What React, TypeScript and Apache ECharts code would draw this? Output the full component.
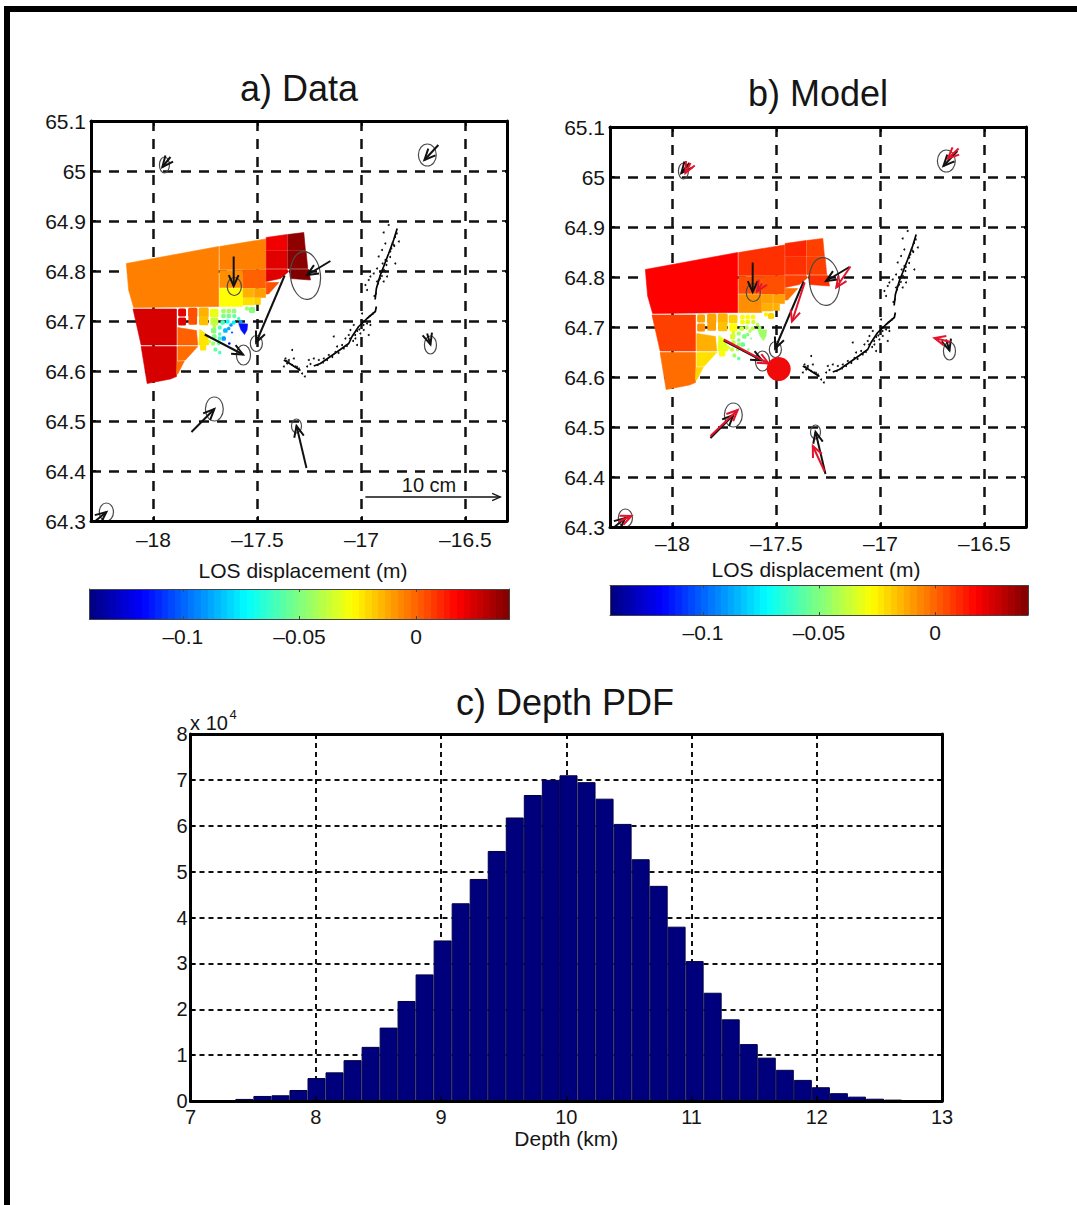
import React, { useEffect, useRef } from "react";
import * as echarts from "echarts";

const FONT = "'Liberation Sans', Arial, sans-serif";
const INK = "#151515";

// Histogram of source depth
const depthBinCentres = [7.142, 7.286, 7.43, 7.574, 7.718, 7.862, 8.006, 8.15, 8.294, 8.438, 8.582, 8.725, 8.869, 9.013, 9.157, 9.301, 9.445, 9.589, 9.733, 9.877, 10.018, 10.162, 10.306, 10.45, 10.594, 10.738, 10.881, 11.025, 11.169, 11.313, 11.457, 11.601, 11.745, 11.889, 12.033, 12.177, 12.321, 12.465, 12.609, 12.753, 12.897];
const depthCounts = [150, 200, 450, 1100, 1250, 2400, 5000, 6250, 8900, 11800, 16000, 21800, 27600, 35000, 43100, 48400, 54500, 61800, 66700, 70000, 71000, 69500, 65900, 60400, 52700, 46900, 38000, 30500, 23600, 17800, 12400, 9450, 6800, 4600, 3000, 1700, 950, 500, 300, 150, 100];

// InSAR cells: outlines in [lon, lat], LOS values for data and model
const cellOutlines = [
  [[-18.13, 64.815], [-17.686, 64.849], [-17.686, 64.729], [-18.095, 64.727], [-18.119, 64.762]],
  [[-17.681, 64.849], [-17.461, 64.864], [-17.461, 64.803], [-17.681, 64.803]],
  [[-17.681, 64.801], [-17.57, 64.801], [-17.57, 64.767], [-17.681, 64.767]],
  [[-17.569, 64.802], [-17.461, 64.802], [-17.461, 64.766], [-17.569, 64.766]],
  [[-17.681, 64.765], [-17.571, 64.765], [-17.571, 64.729], [-17.681, 64.729]],
  [[-17.569, 64.765], [-17.518, 64.765], [-17.518, 64.747], [-17.569, 64.747]],
  [[-17.515, 64.765], [-17.461, 64.765], [-17.461, 64.747], [-17.515, 64.747]],
  [[-17.569, 64.746], [-17.518, 64.746], [-17.518, 64.732], [-17.569, 64.732]],
  [[-17.515, 64.746], [-17.485, 64.746], [-17.485, 64.733], [-17.515, 64.733]],
  [[-17.458, 64.867], [-17.357, 64.873], [-17.357, 64.841], [-17.458, 64.841]],
  [[-17.354, 64.873], [-17.277, 64.877], [-17.269, 64.841], [-17.354, 64.841]],
  [[-17.458, 64.84], [-17.357, 64.84], [-17.357, 64.805], [-17.458, 64.805]],
  [[-17.354, 64.84], [-17.266, 64.84], [-17.258, 64.805], [-17.354, 64.805]],
  [[-17.458, 64.803], [-17.357, 64.803], [-17.349, 64.799], [-17.389, 64.785], [-17.458, 64.779]],
  [[-17.346, 64.803], [-17.253, 64.803], [-17.245, 64.782], [-17.341, 64.785]],
  [[-17.458, 64.777], [-17.397, 64.777], [-17.446, 64.754], [-17.458, 64.754]],
  [[-18.098, 64.724], [-17.889, 64.724], [-17.889, 64.652], [-18.059, 64.652]],
  [[-18.059, 64.649], [-17.889, 64.649], [-17.889, 64.589], [-17.918, 64.584], [-18.03, 64.575]],
  [[-17.883, 64.687], [-17.793, 64.681], [-17.787, 64.652], [-17.883, 64.652]],
  [[-17.883, 64.649], [-17.787, 64.649], [-17.846, 64.622], [-17.883, 64.621]],
  [[-17.886, 64.619], [-17.851, 64.62], [-17.883, 64.594], [-17.889, 64.594]],
  [[-17.777, 64.683], [-17.739, 64.672], [-17.734, 64.652], [-17.782, 64.652]],
  [[-17.59, 64.695], [-17.547, 64.694], [-17.55, 64.682], [-17.562, 64.673], [-17.579, 64.682]],
];
const cellValuesData = [-0.005, -0.005, -0.0077, 0.0006, -0.0275, -0.0136, -0.0105, -0.022, -0.019, 0.0202, 0.0373, 0.023, 0.038, 0.023, 0.04, 0.0036, 0.0247, 0.0247, 0.0006, -0.0015, -0.0015, -0.023, -0.115];
const cellValuesModel = [0.0175, 0.009, 0.0036, 0.0036, -0.0077, -0.0105, -0.0105, -0.0136, -0.0136, 0.011, 0.0063, 0.009, 0.0063, 0.0063, 0.009, -0.002, 0.0063, -0.0015, -0.0136, -0.022, -0.02, -0.032, -0.045];

// Small quadtree squares: [lon, lat, width in degrees of longitude]
const smallCells = [
  [-17.862, 64.717, 0.038], [-17.811, 64.717, 0.045], [-17.758, 64.717, 0.048], [-17.708, 64.716, 0.042],
  [-17.663, 64.72, 0.022], [-17.638, 64.72, 0.022], [-17.612, 64.72, 0.022], [-17.862, 64.699, 0.038],
  [-17.811, 64.701, 0.042], [-17.758, 64.701, 0.045], [-17.707, 64.699, 0.038], [-17.663, 64.71, 0.022],
  [-17.638, 64.71, 0.022], [-17.611, 64.71, 0.019], [-17.667, 64.697, 0.022], [-17.643, 64.699, 0.019],
  [-17.614, 64.697, 0.019], [-17.58, 64.699, 0.016], [-17.627, 64.692, 0.016], [-17.654, 64.681, 0.022],
  [-17.622, 64.677, 0.01], [-17.662, 64.665, 0.022], [-17.635, 64.655, 0.013], [-17.71, 64.681, 0.026],
  [-17.707, 64.669, 0.022], [-17.681, 64.674, 0.016], [-17.713, 64.655, 0.019], [-17.686, 64.655, 0.016],
  [-17.702, 64.643, 0.019], [-17.681, 64.637, 0.016], [-17.681, 64.687, 0.019], [-17.761, 64.647, 0.03],
  [-17.526, 64.722, 0.029], [-17.707, 64.689, 0.016], [-17.681, 64.665, 0.019], [-17.638, 64.685, 0.016],
  [-17.59, 64.705, 0.016], [-17.55, 64.725, 0.019], [-17.731, 64.659, 0.016],
];
const smallValuesData = [0.022, 0.0036, -0.0136, -0.031, -0.044, -0.044, -0.047, 0.023, 0.0036, -0.016, -0.038, -0.05, -0.052, -0.055, -0.062, -0.072, -0.075, -0.09, -0.09, -0.085, -0.105, -0.09, -0.12, -0.048, -0.05, -0.06, -0.045, -0.055, -0.055, -0.06, -0.06, -0.023, -0.05, -0.042, -0.062, -0.088, -0.06, -0.045, -0.035];
const smallValuesModel = [-0.0105, -0.011, -0.0136, -0.019, -0.0275, -0.0275, -0.028, -0.0077, -0.0105, -0.0165, -0.0275, -0.03, -0.033, -0.036, -0.038, -0.04, -0.04, -0.045, -0.04, -0.05, -0.05, -0.055, -0.05, -0.035, -0.04, -0.05, -0.038, -0.045, -0.045, -0.055, -0.045, -0.028, -0.02, -0.035, -0.045, -0.05, -0.04, -0.025, -0.032];

// GPS: [lon, lat, radius lon, radius lat, tilt in degrees]
const gpsEllipses = [
  [-17.947, 65.012, 0.024, 0.016, 0], [-16.683, 65.032, 0.043, 0.022, 0], [-17.269, 64.791, 0.072, 0.048, 6],
  [-17.611, 64.769, 0.034, 0.018, 0], [-17.505, 64.655, 0.029, 0.016, 0], [-17.567, 64.632, 0.034, 0.02, 0],
  [-16.668, 64.652, 0.029, 0.018, 0], [-17.707, 64.524, 0.043, 0.024, 0], [-17.312, 64.49, 0.024, 0.014, 0],
  [-18.226, 64.318, 0.034, 0.018, 0],
];
// [tail lon, tail lat, head lon, head lat]
const gpsObserved = [
  [-17.918, 65.028, -17.957, 65.008], [-16.63, 65.052, -16.697, 65.022], [-17.149, 64.82, -17.261, 64.792],
  [-17.614, 64.829, -17.614, 64.77], [-17.369, 64.791, -17.506, 64.657], [-17.753, 64.673, -17.569, 64.633],
  [-16.684, 64.675, -16.668, 64.653], [-17.817, 64.478, -17.707, 64.524], [-17.264, 64.406, -17.312, 64.49],
  [-18.279, 64.3, -18.226, 64.318],
];
const gpsModelled = [
  [-17.913, 65.028, -17.9375, 65.008], [-16.624, 65.057, -16.676, 65.037], [-17.144, 64.821, -17.212, 64.779],
  [-17.569, 64.787, -17.593, 64.771], [-17.364, 64.789, -17.425, 64.711], [-17.753, 64.675, -17.537, 64.627],
  [-16.663, 64.67, -16.74, 64.678], [-17.817, 64.482, -17.686, 64.534], [-17.268, 64.411, -17.325, 64.462],
  [-18.258, 64.311, -18.197, 64.322],
];
const scaleArrow = [[-16.981, 64.348, -16.332, 64.348]];
const modelSource = [[-17.489, 64.616]];

// Seismicity
const fissureTrace = [
  [-16.828, 64.885], [-16.845, 64.862], [-16.869, 64.835], [-16.893, 64.809], [-16.909, 64.792], [-16.928, 64.765], [-16.934, 64.743], ["-", "-"],
  [-16.928, 64.729], [-16.933, 64.719], [-16.973, 64.705], [-17.013, 64.689], [-17.045, 64.669], [-17.061, 64.655], [-17.101, 64.643], [-17.149, 64.629], [-17.197, 64.615], [-17.229, 64.61], ["-", "-"],
  [-17.373, 64.622], [-17.341, 64.614], [-17.293, 64.601],
];
const seismicDots = [
  [-16.869, 64.892], [-16.893, 64.877], [-16.82, 64.859], [-16.885, 64.855], [-16.845, 64.852], [-16.901, 64.842], [-16.861, 64.839], [-16.917, 64.829], [-16.885, 64.822], [-16.837, 64.815], [-16.925, 64.805], [-16.957, 64.789], [-16.965, 64.782], [-16.941, 64.795], [-16.877, 64.789], [-16.981, 64.772], [-16.973, 64.762], [-16.893, 64.779], [-16.917, 64.782], [-16.901, 64.799], [-16.885, 64.799], [-16.925, 64.779],
  [-16.997, 64.715], [-16.973, 64.695], [-16.957, 64.692], [-16.989, 64.682], [-16.965, 64.672], [-17.005, 64.675], [-17.037, 64.692], [-17.053, 64.682], [-17.061, 64.672], [-17.029, 64.665], [-17.133, 64.669], [-17.077, 64.665], [-17.021, 64.652], [-17.093, 64.652], [-17.117, 64.649],
  [-17.157, 64.632], [-17.181, 64.625], [-17.229, 64.625], [-17.253, 64.622], [-17.261, 64.609], [-17.245, 64.614], [-17.205, 64.622],
  [-17.333, 64.642], [-17.365, 64.625], [-17.373, 64.609], [-17.349, 64.622], [-17.325, 64.625], [-17.357, 64.615], [-17.317, 64.609], [-17.333, 64.612], [-17.272, 64.589], [-17.301, 64.605], [-17.285, 64.595],
  [-16.83, 64.875], [-16.838, 64.868], [-16.85, 64.856], [-16.842, 64.85], [-16.856, 64.845], [-16.862, 64.828], [-16.878, 64.82], [-16.88, 64.812], [-16.892, 64.802], [-16.898, 64.815], [-16.905, 64.8], [-16.91, 64.785], [-16.902, 64.79], [-16.92, 64.775], [-16.93, 64.755], [-16.938, 64.75], [-16.945, 64.715], [-16.96, 64.71], [-16.98, 64.7], [-16.99, 64.692], [-17.0, 64.7], [-17.02, 64.68], [-17.03, 64.672], [-17.01, 64.683], [-17.04, 64.66], [-17.055, 64.665], [-17.07, 64.65], [-17.085, 64.645], [-17.11, 64.636], [-17.125, 64.638], [-17.14, 64.628], [-17.165, 64.622], [-17.185, 64.617], [-17.21, 64.612], [-17.35, 64.618], [-17.36, 64.62], [-17.31, 64.608],
];
const colorbarRange = [[-0.14, 0, 0.04, 1]];

const LOS_MIN = -0.14;
const LOS_MAX = 0.04;

function jet(t: number): string {
  const c = (v: number) => Math.round(255 * Math.max(0, Math.min(1, v)));
  const f = (o: number) => c(1.5 - Math.abs(4 * t - o));
  return `rgb(${f(3)},${f(2)},${f(1)})`;
}
const losColor = (v: number) => jet((v - LOS_MIN) / (LOS_MAX - LOS_MIN));

function jetStops() {
  const stops: any[] = [];
  const n = 64;
  for (let i = 0; i < n; i++) {
    const col = jet((i + 0.5) / n);
    stops.push({ offset: i / n, color: col }, { offset: (i + 1) / n, color: col });
  }
  return stops;
}

const dash = (w: number, on: number, off: number) => ({ color: "#111", width: w, type: [on, off] as number[] });

function axisSet(dim: "x" | "y", g: number, cfg: any) {
  const [near, far] = dim === "x" ? ["bottom", "top"] : ["left", "right"];
  const range = { min: cfg.min, max: cfg.max, interval: cfg.interval, splitNumber: cfg.splitNumber, scale: true };
  const line = { show: true, onZero: false, lineStyle: { color: cfg.lineColor ?? "#000", width: cfg.lineWidth ?? 3 } };
  const tick = { show: !cfg.noTicks, inside: true, length: cfg.tickLen ?? 5, lineStyle: { color: cfg.lineColor ?? "#000", width: cfg.tickWidth ?? 1.5 } };
  const base = { type: "value", gridIndex: g, ...range };
  return [
    {
      ...base,
      position: near,
      axisLine: { show: false, onZero: false },
      axisTick: { show: false },
      splitLine: cfg.grid ? { show: true, lineStyle: cfg.grid } : { show: false },
      axisLabel: cfg.noLabels
        ? { show: false }
        : {
            show: true,
            margin: cfg.margin ?? 6,
            fontFamily: FONT,
            fontSize: cfg.fontSize ?? 21,
            color: INK,
            showMinLabel: !cfg.hideEnds,
            showMaxLabel: !cfg.hideEnds,
            formatter: cfg.formatter ?? ((v: number) => String(v).replace("-", "\u2013")),
          },
      name: cfg.name,
      nameLocation: "middle",
      nameGap: cfg.nameGap,
      nameTextStyle: { fontFamily: FONT, fontSize: 21, color: INK },
    },
    { ...base, position: near, z: 5, axisLine: line, axisTick: tick, splitLine: { show: false }, axisLabel: { show: false } },
    { ...base, position: far, z: 5, axisLine: line, axisTick: tick, splitLine: { show: false }, axisLabel: { show: false } },
  ];
}

function polygonSeries(g: number, values: number[]) {
  return {
    type: "custom",
    coordinateSystem: "cartesian2d",
    xAxisIndex: g * 3,
    yAxisIndex: g * 3,
    silent: true,
    z: 2,
    clip: true,
    encode: { x: 0, y: 1 },
    data: cellOutlines.map((o, i) => [o[0][0], o[0][1], values[i]]),
    renderItem: (p: any, api: any) => {
      const points = cellOutlines[p.dataIndex].map((q) => api.coord(q));
      const fill = losColor(api.value(2));
      return { type: "polygon", shape: { points }, style: { fill, stroke: fill, lineWidth: 0.6, lineJoin: "round" } };
    },
  };
}

function squareSeries(g: number, values: number[]) {
  return {
    type: "custom",
    coordinateSystem: "cartesian2d",
    xAxisIndex: g * 3,
    yAxisIndex: g * 3,
    silent: true,
    z: 2,
    clip: true,
    encode: { x: 0, y: 1 },
    data: smallCells.map((c, i) => [c[0], c[1], c[2], values[i]]),
    renderItem: (_p: any, api: any) => {
      const c = api.coord([api.value(0), api.value(1)]);
      const side = api.size([api.value(2), 0])[0];
      return {
        type: "rect",
        shape: { x: c[0] - side / 2, y: c[1] - side / 2, width: side, height: side, r: 1.5 },
        style: { fill: losColor(api.value(3)) },
      };
    },
  };
}

function ellipseSeries(g: number) {
  return {
    type: "custom",
    coordinateSystem: "cartesian2d",
    xAxisIndex: g * 3,
    yAxisIndex: g * 3,
    silent: true,
    z: 4,
    clip: true,
    encode: { x: 0, y: 1 },
    data: gpsEllipses,
    renderItem: (_p: any, api: any) => {
      const c = api.coord([api.value(0), api.value(1)]);
      const s = api.size([api.value(2), api.value(3)]);
      return {
        type: "ellipse",
        x: c[0],
        y: c[1],
        rotation: (api.value(4) * Math.PI) / 180,
        shape: { cx: 0, cy: 0, rx: s[0], ry: s[1] },
        style: { fill: "none", stroke: "#4a4a4a", lineWidth: 1.2 },
      };
    },
  };
}

function arrowSeries(g: number, data: number[][], color: string, width: number, headLen: number, z = 5) {
  return {
    type: "custom",
    coordinateSystem: "cartesian2d",
    xAxisIndex: g * 3,
    yAxisIndex: g * 3,
    silent: true,
    z,
    clip: true,
    encode: { x: [0, 2], y: [1, 3] },
    data,
    renderItem: (_p: any, api: any) => {
      const a = api.coord([api.value(0), api.value(1)]);
      const b = api.coord([api.value(2), api.value(3)]);
      const ang = Math.atan2(b[1] - a[1], b[0] - a[0]);
      const wing = (d: number) => [b[0] - headLen * Math.cos(ang + d), b[1] - headLen * Math.sin(ang + d)];
      const style = { fill: "none", stroke: color, lineWidth: width, lineJoin: "miter" };
      return {
        type: "group",
        children: [
          { type: "polyline", shape: { points: [a, b] }, style },
          { type: "polyline", shape: { points: [wing(0.42), b, wing(-0.42)] }, style },
        ],
      };
    },
  };
}

function seismicSeries(g: number) {
  return [
    {
      type: "line",
      xAxisIndex: g * 3,
      yAxisIndex: g * 3,
      data: fissureTrace,
      showSymbol: false,
      silent: true,
      connectNulls: false,
      z: 3,
      lineStyle: { color: "#000", width: 1.7 },
    },
    {
      type: "scatter",
      xAxisIndex: g * 3,
      yAxisIndex: g * 3,
      data: seismicDots,
      symbol: "circle",
      symbolSize: 2,
      silent: true,
      z: 3,
      itemStyle: { color: "#111", opacity: 1 },
    },
  ];
}

function colorbarSeries(g: number) {
  return {
    type: "custom",
    coordinateSystem: "cartesian2d",
    xAxisIndex: g * 3,
    yAxisIndex: g * 3,
    silent: true,
    z: 2,
    encode: { x: [0, 2], y: [1, 3] },
    data: colorbarRange,
    renderItem: (_p: any, api: any) => {
      const a = api.coord([api.value(0), api.value(3)]);
      const b = api.coord([api.value(2), api.value(1)]);
      return {
        type: "rect",
        shape: { x: a[0], y: a[1], width: b[0] - a[0], height: b[1] - a[1] },
        style: {
          fill: { type: "linear", x: 0, y: 0, x2: 1, y2: 0, colorStops: jetStops() },
        },
      };
    },
  };
}

const label = (text: string, x: number, y: number, size: number) => ({
  type: "text",
  x,
  y,
  z: 20,
  silent: true,
  style: { text, font: `${size}px ${FONT}`, fill: INK, textAlign: "center", textVerticalAlign: "middle" },
});

function buildOption() {
  const grids = [
    { left: 91, top: 121, width: 416, height: 400 },
    { left: 610, top: 127, width: 416, height: 400 },
    { left: 190.5, top: 734, width: 751.5, height: 367 },
    { left: 89.5, top: 589, width: 420, height: 30 },
    { left: 610, top: 585.5, width: 418, height: 29.5 },
  ];
  const lonCfg = { min: -18.3, max: -16.3, splitNumber: 4, hideEnds: true, grid: dash(2.5, 10, 8) };
  const latCfg = { min: 64.3, max: 65.1, interval: 0.1, grid: dash(2.5, 10, 8), margin: 5 };
  const cbX = { min: LOS_MIN, max: LOS_MAX, splitNumber: 4, hideEnds: true, lineColor: "#444", lineWidth: 1, tickLen: 3, tickWidth: 1, margin: 7 };
  const cbY = { min: 0, max: 1, interval: 1, noLabels: true, noTicks: true, lineColor: "#444", lineWidth: 1 };

  const xAxis = [
    ...axisSet("x", 0, { ...lonCfg, margin: 8 }),
    ...axisSet("x", 1, { ...lonCfg, margin: 6 }),
    ...axisSet("x", 2, { min: 7, max: 13, interval: 1, fontSize: 20, grid: dash(2, 5, 4), margin: 6, name: "Depth (km)", nameGap: 22 }),
    ...axisSet("x", 3, cbX),
    ...axisSet("x", 4, cbX),
  ];
  const yAxis = [
    ...axisSet("y", 0, latCfg),
    ...axisSet("y", 1, latCfg),
    ...axisSet("y", 2, { min: 0, max: 80000, interval: 10000, fontSize: 20, grid: dash(2, 5, 4), margin: 3, formatter: (v: number) => String(v / 10000) }),
    ...axisSet("y", 3, cbY),
    ...axisSet("y", 4, cbY),
  ];

  const series: any[] = [
    polygonSeries(0, cellValuesData),
    squareSeries(0, smallValuesData),
    ...seismicSeries(0),
    ellipseSeries(0),
    arrowSeries(0, gpsObserved, "#111", 2, 12),
    arrowSeries(0, scaleArrow, "#111", 1.3, 9),

    polygonSeries(1, cellValuesModel),
    squareSeries(1, smallValuesModel),
    ...seismicSeries(1),
    ellipseSeries(1),
    arrowSeries(1, gpsObserved, "#111", 2, 12),
    arrowSeries(1, gpsModelled, "#e4122a", 2, 12, 6),
    {
      type: "scatter",
      xAxisIndex: 3,
      yAxisIndex: 3,
      data: modelSource,
      symbol: "circle",
      symbolSize: 24,
      silent: true,
      z: 7,
      itemStyle: { color: "#f00a0a", opacity: 1 },
    },

    {
      type: "bar",
      xAxisIndex: 6,
      yAxisIndex: 6,
      data: depthBinCentres.map((x, i) => [x, depthCounts[i]]),
      barWidth: 18,
      silent: true,
      z: 2,
      itemStyle: { color: "#00007c", borderColor: "#00004a", borderWidth: 1 },
    },

    colorbarSeries(3),
    colorbarSeries(4),
  ];

  return {
    animation: false,
    backgroundColor: "#fff",
    textStyle: { fontFamily: FONT },
    grid: grids.map((g) => ({ ...g, containLabel: false, show: false })),
    xAxis,
    yAxis,
    series,
    graphic: {
      elements: [
        { type: "rect", shape: { x: 4, y: 6, width: 6, height: 1199 }, style: { fill: "#000" }, z: 20, silent: true },
        { type: "rect", shape: { x: 4, y: 6, width: 1073, height: 6 }, style: { fill: "#000" }, z: 20, silent: true },
        label("a) Data", 299, 88, 36),
        label("b) Model", 818, 93, 36),
        label("c) Depth PDF", 565, 702, 36),
        label("LOS displacement (m)", 303, 570, 21),
        label("LOS displacement (m)", 816, 569, 21),
        label("10 cm", 429, 485, 20),
        label("x 10", 209, 723, 20),
        label("4", 233, 714, 13),
      ],
    },
  };
}

export default function App() {
  const ref = useRef<HTMLDivElement>(null);
  useEffect(() => {
    document.body.style.margin = "0";
    const chart = echarts.init(ref.current!, undefined, { renderer: "svg" });
    chart.setOption(buildOption() as any);
    return () => chart.dispose();
  }, []);
  return <div ref={ref} style={{ position: "absolute", left: 0, top: 0, width: 1077, height: 1205 }} />;
}
